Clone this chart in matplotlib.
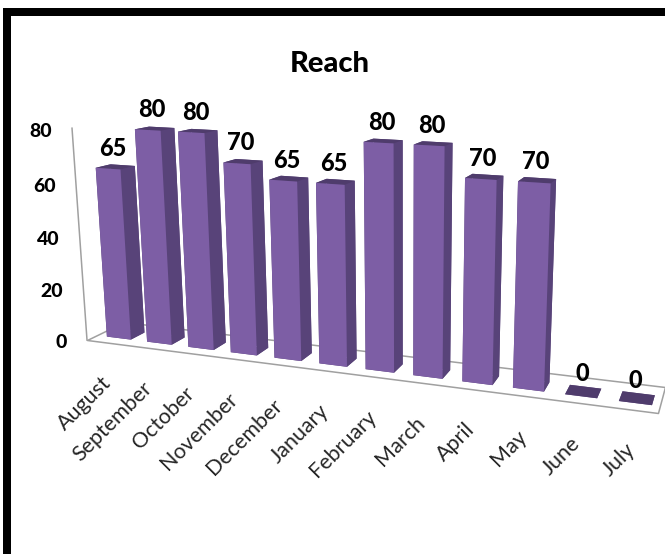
import numpy as np
import matplotlib
matplotlib.use("Agg")
import matplotlib.pyplot as plt
from matplotlib.patches import Rectangle
from mpl_toolkits.mplot3d.art3d import Poly3DCollection

months = ["August", "September", "October", "November", "December", "January",
          "February", "March", "April", "May", "June", "July"]
reach = [65, 80, 80, 70, 65, 65, 80, 80, 70, 70, 0, 0]
y_ticks = [0, 20, 40, 60, 80]

W, H = 665, 554
FRONT = "#7D5EA5"
SIDE = "#584379"
TOP = "#4F3C6C"
FLOOR = "#A0A0A0"

# camera of the original chart as a 3x4 matrix: (category, depth, value) -> pixel
CAMERA = np.array([
    [38.6, 44.14, -0.228, 87.0],
    [0.446, 0.55, -2.72, 340.0],
    [-0.01365, 0.0576, -0.000565, 1.0],
])

plt.rcParams["font.family"] = ["Lato", "DejaVu Sans"]


def to_pixel(x, y, z):
    u, v, w = CAMERA @ np.array([x, y, z, 1.0])
    return u / w, v / w


def put_text(x, y, z, s, dx=0, dy=0, **kwargs):
    # text placed on a data point, with an offset in pixels
    u, v = to_pixel(x, y, z)
    fig.text((u + dx) / W, 1 - (v + dy) / H, s, **kwargs)


fig = plt.figure(figsize=(W / 100, H / 100), dpi=100)
ax = fig.add_axes([0, 0, 1, 1], projection="3d", computed_zorder=False)
ax.set_axis_off()
ax.set_xlim(0, 12)
ax.set_ylim(0, 1)
ax.set_zlim(0, 80)
ax.apply_aspect()

# mplot3d wants view coordinates, so go pixel -> display -> view
to_view = ax.transData.inverted().get_affine().get_matrix() @ np.array(
    [[1, 0, 0], [0, -1, H], [0, 0, 1]], dtype=float)
depth_row = [-0.1, 1.0, -0.001, 0.0]
proj = np.array([
    [to_view[0, 0], to_view[0, 1], 0, to_view[0, 2]],
    [to_view[1, 0], to_view[1, 1], 0, to_view[1, 2]],
    [0, 0, 1, 0],
    [0, 0, 0, 1],
]) @ np.vstack([CAMERA[:2], depth_row, CAMERA[2]])
ax.get_proj = lambda: proj

# floor and value axis
floor = Poly3DCollection([[(0, 0, 0), (12, 0, 0), (12, 1, 0), (0, 1, 0)]], facecolor="white",
                         edgecolor=FLOOR, linewidth=1.1, zorder=1)
ax.add_collection3d(floor)
floor.set_clip_on(False)
z_axis, = ax.plot([0, 0], [0, 0], [0, 80], color=FLOOR, lw=1.1, zorder=1)
z_axis.set_clip_on(False)

# bars; zero values still show as a thin slab
x = np.arange(len(months)) + 0.26
heights = np.maximum(np.array(reach, dtype=float), 0.01)
faces = [SIDE, TOP, FRONT, SIDE, SIDE, SIDE] * len(months)
bars = ax.bar3d(x, 0.25, 0, 0.6, 0.38, heights, color=faces, shade=False, zorder=2)
bars.set_clip_on(False)

for xi, val, month in zip(x, reach, months):
    put_text(xi + 0.3, 0.4, val, str(val), dx=-1, dy=-19, ha="center", va="center",
             fontsize=17, fontweight="black", color="black")
    put_text(xi + 0.3, 0, 0, month, dx=-8, dy=30, ha="right", va="top", rotation=45,
             rotation_mode="anchor", fontsize=15.5, color="#262626")
for t in y_ticks:
    put_text(0, 0, t, str(t), dx=-20, dy=3, ha="right", va="center", fontsize=14,
             fontweight="black", color="black")

fig.text(330 / W, 1 - 64 / H, "Reach", ha="center", va="center", fontsize=21, fontweight="black")

# black frame of the screenshot: top and left only
for rect in [(3 / W, 0, 7.5 / W, 1 - 8 / H), (3 / W, 1 - 16 / H, 1, 8 / H)]:
    fig.add_artist(Rectangle(rect[:2], rect[2], rect[3], transform=fig.transFigure,
                             facecolor="black", edgecolor="none"))

fig.savefig("out.png", dpi=100)
